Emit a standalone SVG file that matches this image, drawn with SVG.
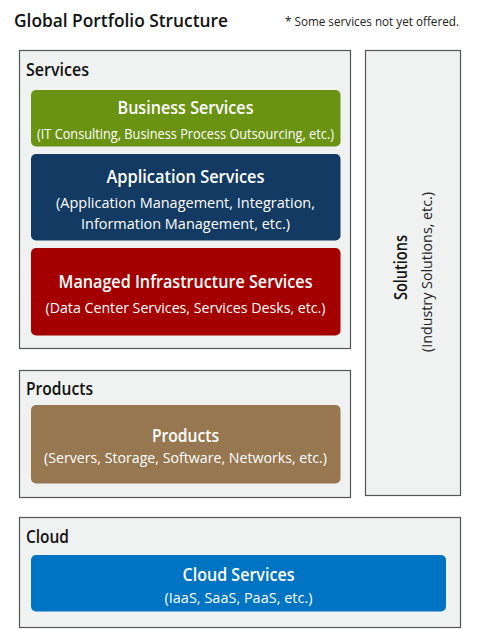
<svg xmlns="http://www.w3.org/2000/svg" width="480" height="643" viewBox="0 0 480 643">
<style>
.bg{fill:#ffffff}
.panel{fill:#f0f1f1;stroke:#555555;stroke-width:1.2}
.card{stroke:none}
.lbl{font-family:"Open Sans","Noto Sans",sans-serif;font-weight:600;fill:#111111;font-size:17.5px}
.ttl{font-family:"Open Sans","Noto Sans",sans-serif;font-weight:600;fill:#ffffff;font-size:18.5px;text-anchor:middle}
.sub{font-family:"Open Sans","Noto Sans",sans-serif;font-weight:400;fill:#ffffff;font-size:15px;text-anchor:middle}
</style>
<rect class="bg" x="0" y="0" width="480" height="643"/>
<g id="header">
<text x="14" y="26.5" class="lbl" font-size="19.5" textLength="214" lengthAdjust="spacingAndGlyphs">Global Portfolio Structure</text>
<text x="285" y="26" font-family="Open Sans, Noto Sans, sans-serif" font-size="12.5" fill="#222" textLength="174" lengthAdjust="spacingAndGlyphs">* Some services not yet offered.</text>
</g>
<g id="services">
<rect class="panel" x="19.5" y="50.5" width="331" height="298"/>
<text x="26" y="76" class="lbl" textLength="63" lengthAdjust="spacingAndGlyphs">Services</text>
</g>
<g id="business-services">
<rect class="card" x="31" y="90" width="309.5" height="56.5" rx="5" fill="#6a9213"/>
<text x="185.5" y="114.3" class="ttl" textLength="136" lengthAdjust="spacingAndGlyphs">Business Services</text>
<text x="185.5" y="139" class="sub" textLength="297" lengthAdjust="spacingAndGlyphs">(IT Consulting, Business Process Outsourcing, etc.)</text>
</g>
<g id="application-services">
<rect class="card" x="31" y="154" width="309.5" height="86.5" rx="5" fill="#133a63"/>
<text x="185.5" y="182.7" class="ttl" textLength="158" lengthAdjust="spacingAndGlyphs">Application Services</text>
<text x="185.5" y="208.3" class="sub" textLength="259" lengthAdjust="spacingAndGlyphs">(Application Management, Integration,</text>
<text x="185.5" y="228.5" class="sub" textLength="209" lengthAdjust="spacingAndGlyphs">Information Management, etc.)</text>
</g>
<g id="managed-infrastructure-services">
<rect class="card" x="31" y="248" width="309.5" height="87.5" rx="5" fill="#a50000"/>
<text x="185.5" y="288.3" class="ttl" textLength="254" lengthAdjust="spacingAndGlyphs">Managed Infrastructure Services</text>
<text x="185.5" y="313.3" class="sub" textLength="280" lengthAdjust="spacingAndGlyphs">(Data Center Services, Services Desks, etc.)</text>
</g>
<g id="products-panel">
<rect class="panel" x="19.5" y="370.5" width="331" height="127"/>
<text x="26" y="395" class="lbl" textLength="67" lengthAdjust="spacingAndGlyphs">Products</text>
</g>
<g id="products">
<rect class="card" x="31" y="405" width="309.5" height="78.5" rx="5" fill="#97774f"/>
<text x="185.5" y="441.7" class="ttl" textLength="67" lengthAdjust="spacingAndGlyphs">Products</text>
<text x="185.5" y="463.3" class="sub" textLength="283" lengthAdjust="spacingAndGlyphs">(Servers, Storage, Software, Networks, etc.)</text>
</g>
<g id="solutions">
<rect class="panel" x="365.5" y="50.5" width="95" height="445"/>
<text transform="translate(407,267.5) rotate(-90)" x="0" y="0" class="lbl" font-size="18.5" text-anchor="middle" textLength="65" lengthAdjust="spacingAndGlyphs">Solutions</text>
<text transform="translate(431.5,272) rotate(-90)" x="0" y="0" font-family="Open Sans, Noto Sans, sans-serif" font-size="15" fill="#222" text-anchor="middle" textLength="160" lengthAdjust="spacingAndGlyphs">(Industry Solutions, etc.)</text>
</g>
<g id="cloud-panel">
<rect class="panel" x="19.5" y="517.5" width="441" height="110"/>
<text x="26" y="543.3" class="lbl" textLength="43" lengthAdjust="spacingAndGlyphs">Cloud</text>
</g>
<g id="cloud-services">
<rect class="card" x="31" y="555" width="415" height="56.5" rx="5" fill="#0073c3"/>
<text x="238.5" y="581" class="ttl" textLength="112" lengthAdjust="spacingAndGlyphs">Cloud Services</text>
<text x="238.5" y="602.7" class="sub" textLength="148" lengthAdjust="spacingAndGlyphs">(IaaS, SaaS, PaaS, etc.)</text>
</g>
<g id="connectors"></g>
</svg>
